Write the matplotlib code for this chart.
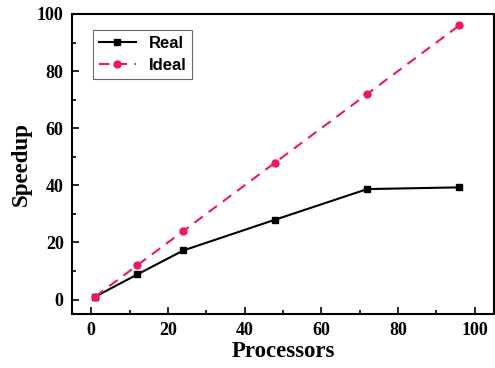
import numpy as np
import matplotlib
matplotlib.use('Agg')
import matplotlib.pyplot as plt
from matplotlib.ticker import MultipleLocator

# Processor counts and measured / ideal speedup
processors = [1, 12, 24, 48, 72, 96]
real = [1, 8.8, 17.2, 28, 38.7, 39.3]
ideal = [1, 12, 24, 48, 72, 96]

fig = plt.figure(figsize=(4.95, 3.68), dpi=100)
ax = fig.add_axes([0.1455, 0.147, 0.852, 0.815])

ax.plot(processors, real, color='black', lw=1.5, marker='s', ms=4.5, label='Real')
ax.plot(processors, ideal, color='#f01858', lw=1.5, ls=(0, (5, 3.5)), marker='o', ms=5,
        label='Ideal')

ax.set_xlim(-5, 105)
ax.set_ylim(-5, 100)
ax.xaxis.set_major_locator(MultipleLocator(20))
ax.xaxis.set_minor_locator(MultipleLocator(10))
ax.yaxis.set_major_locator(MultipleLocator(20))
ax.yaxis.set_minor_locator(MultipleLocator(10))
ax.tick_params(which='major', direction='in', length=5, width=1.2, pad=6)
ax.tick_params(which='minor', direction='in', length=3, width=1.2)
for sp in ax.spines.values():
    sp.set_linewidth(1.5)

for lab in ax.get_xticklabels() + ax.get_yticklabels():
    lab.set_fontfamily('Liberation Serif')
    lab.set_fontweight('bold')
    lab.set_fontsize(13)

ax.set_xlabel('Processors', fontfamily='Liberation Serif', fontweight='bold', fontsize=16.5,
              labelpad=1)
ax.set_ylabel('Speedup', fontfamily='Liberation Serif', fontweight='bold', fontsize=16.5,
              labelpad=4)

leg = ax.legend(loc='upper left', bbox_to_anchor=(0.03, 0.975), fancybox=False,
                edgecolor='#444444', handlelength=2.2, borderpad=0.35, labelspacing=0.45,
                prop={'family': 'Liberation Sans', 'weight': 'bold', 'size': 12})
leg.get_frame().set_linewidth(0.8)

fig.savefig('out.png', dpi=100)
